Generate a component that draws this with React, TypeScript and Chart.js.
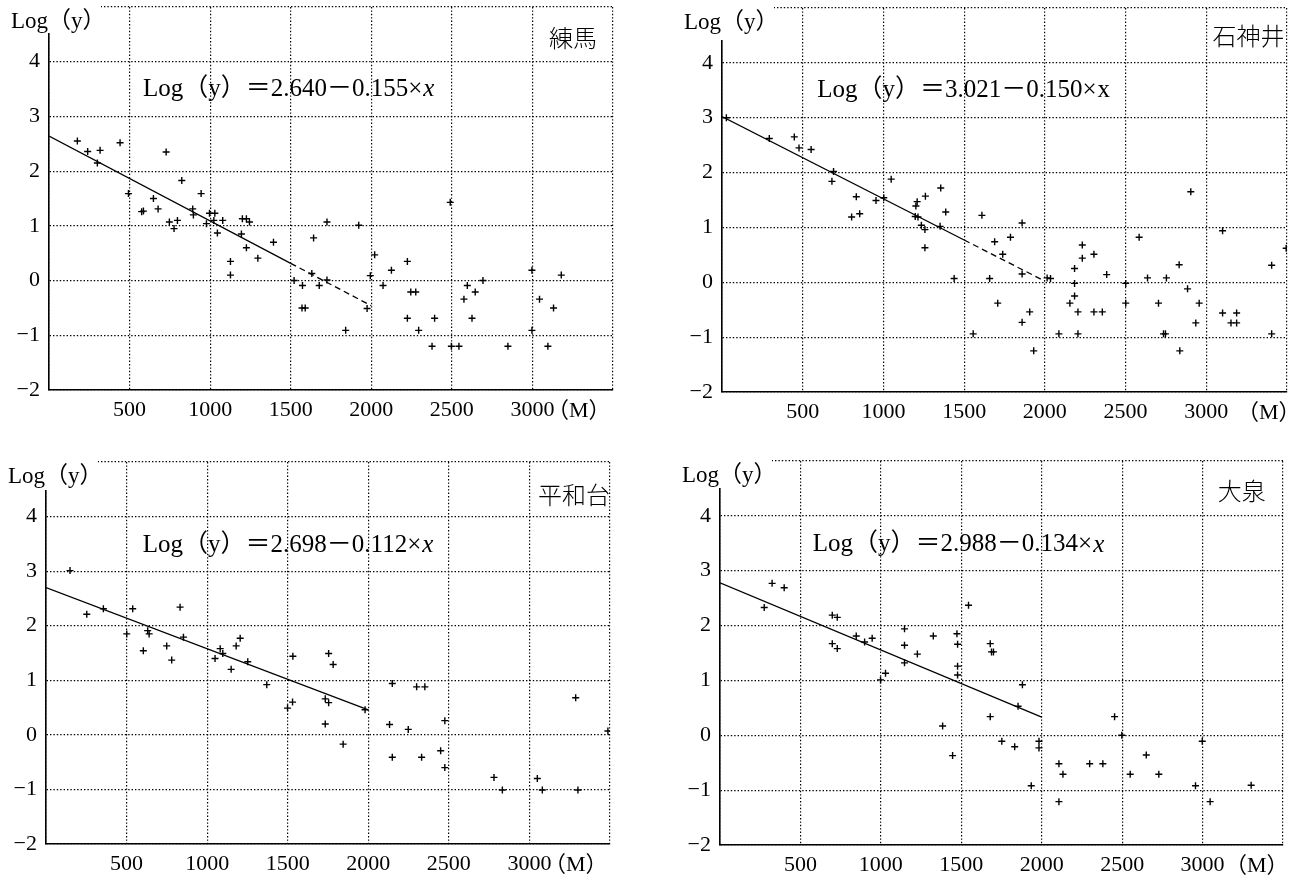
import React, { useEffect, useRef } from "react";
import { Chart, registerables } from "chart.js";

Chart.register(...registerables);

// ---------------- data ----------------
const stationNames = ["練馬", "石神井", "平和台", "大泉"];
const equationMain = [
  "Log（y）＝2.640－0.155×",
  "Log（y）＝3.021－0.150×",
  "Log（y）＝2.698－0.112×",
  "Log（y）＝2.988－0.134×",
];
const equationVar = ["x", "x", "x", "x"];
const equationVarItalic = [true, false, true, true];

const axisTitle = "Log（y）";
const unitLabel = "（M）";

const xTickValues = [500, 1000, 1500, 2000, 2500, 3000];
const xTickLabels = ["500", "1000", "1500", "2000", "2500", "3000"];
const yTickValues = [-2, -1, 0, 1, 2, 3, 4];
const yTickLabels = ["−2", "−1", "0", "1", "2", "3", "4"];

// 練馬
const nerimaX = [176, 240, 317, 300, 441, 727, 493, 824, 944, 575, 586, 648, 677, 747, 776, 797, 892, 896, 977, 996, 1029, 1023, 1078, 1045, 1200, 1225, 1244, 1194, 1225, 1296, 1393, 1126, 1126, 1521, 1573, 1570, 1590, 1642, 1631, 1677, 1725, 1725, 1922, 1841, 1974, 1994, 2021, 2073, 2125, 2224, 2245, 2276, 2224, 2294, 2377, 2393, 2490, 2497, 2544, 2575, 2596, 2645, 2625, 2693, 2848, 2997, 2997, 3044, 3131, 3096, 3179];
const nerimaY = [2.55, 2.36, 2.38, 2.15, 2.52, 2.35, 1.59, 1.83, 1.59, 1.26, 1.27, 1.5, 1.31, 1.07, 0.95, 1.1, 1.31, 1.2, 1.04, 1.23, 1.23, 1.1, 1.1, 0.87, 1.13, 1.13, 1.07, 0.85, 0.6, 0.41, 0.7, 0.35, 0.1, 0.0, -0.09, -0.5, -0.5, 0.78, 0.13, -0.09, 1.07, 0.01, 1.01, -0.91, -0.51, 0.09, 0.47, -0.09, 0.19, 0.35, -0.21, -0.21, -0.69, -0.91, -1.2, -0.69, 1.43, -1.2, -1.2, -0.34, -0.09, -0.21, -0.69, 0.0, -1.2, 0.19, -0.91, -0.34, -0.5, -1.2, 0.1];
const nerimaLineX = [0, 1500, 2000];
const nerimaLineY = [2.64, 0.315, -0.46];

// 石神井
const shakujiiX = [27, 293, 448, 477, 552, 691, 681, 832, 803, 853, 954, 1002, 1048, 1201, 1209, 1260, 1197, 1214, 1235, 1257, 1257, 1355, 1386, 1351, 1438, 1556, 1610, 1658, 1689, 1708, 1739, 1787, 1859, 1859, 1906, 1859, 1931, 2014, 2035, 2087, 2184, 2184, 2184, 2155, 2205, 2205, 2232, 2232, 2304, 2304, 2356, 2383, 2501, 2501, 2584, 2636, 2753, 2704, 2735, 2747, 2832, 2836, 2884, 2904, 2956, 2935, 3101, 3101, 3188, 3153, 3188, 3405, 3405, 3495];
const shakujiiY = [3.0, 2.62, 2.65, 2.45, 2.42, 2.02, 1.84, 1.56, 1.19, 1.25, 1.49, 1.54, 1.88, 1.39, 1.47, 1.57, 1.2, 1.19, 1.04, 0.96, 0.63, 1.72, 1.28, 1.02, 0.07, -0.94, 1.22, 0.07, 0.74, -0.38, 0.51, 0.82, 1.08, 0.15, -0.54, -0.73, -1.25, 0.08, 0.07, -0.94, 0.25, -0.02, -0.25, -0.38, -0.54, -0.94, 0.68, 0.44, 0.51, -0.54, -0.54, 0.14, -0.02, -0.38, 0.82, 0.08, 0.08, -0.38, -0.94, -0.94, 0.32, -1.25, -0.12, 1.65, -0.38, -0.74, 0.94, -0.56, -0.56, -0.74, -0.74, 0.31, -0.94, 0.62];
const shakujiiLineX = [0, 1500, 2000];
const shakujiiLineY = [3.021, 0.771, 0.021];

// 平和台
const heiwadaiX = [149, 253, 356, 538, 501, 604, 631, 640, 749, 780, 832, 853, 1049, 1081, 1097, 1149, 1180, 1205, 1252, 1370, 1532, 1499, 1530, 1733, 1754, 1733, 1754, 1782, 1844, 1980, 2149, 2132, 2149, 2248, 2300, 2351, 2331, 2449, 2475, 2475, 2780, 2832, 3049, 3080, 3287, 3301, 3487];
const heiwadaiY = [3.01, 2.21, 2.31, 2.31, 1.85, 1.54, 1.91, 1.85, 1.63, 1.37, 2.34, 1.79, 1.4, 1.58, 1.49, 1.2, 1.63, 1.77, 1.34, 0.92, 1.44, 0.49, 0.6, 0.66, 0.59, 0.2, 1.49, 1.29, -0.17, 0.46, 0.94, 0.19, -0.41, 0.1, 0.88, 0.88, -0.41, -0.29, 0.26, -0.6, -0.78, -1.01, -0.8, -1.01, 0.68, -1.01, 0.07];
const heiwadaiLineX = [0, 2000];
const heiwadaiLineY = [2.698, 0.458];

// 大泉
const oizumiX = [275, 324, 399, 698, 729, 698, 729, 847, 899, 946, 998, 1029, 1147, 1147, 1147, 1227, 1326, 1384, 1446, 1473, 1477, 1477, 1477, 1545, 1680, 1688, 1700, 1680, 1752, 1880, 1853, 1832, 1983, 1983, 1935, 2107, 2132, 2107, 2298, 2380, 2453, 2498, 2550, 2650, 2728, 2956, 2998, 3047, 3302];
const oizumiY = [2.33, 2.77, 2.69, 2.19, 2.15, 1.67, 1.58, 1.81, 1.7, 1.77, 1.01, 1.13, 1.94, 1.64, 1.32, 1.48, 1.81, 0.17, -0.37, 1.85, 1.66, 1.26, 1.1, 2.37, 1.67, 1.52, 1.52, 0.34, -0.11, 0.92, 0.53, -0.21, -0.11, -0.23, -0.92, -0.52, -0.71, -1.21, -0.52, -0.52, 0.34, 0.0, -0.71, -0.36, -0.71, -0.92, -0.11, -1.21, -0.91];
const oizumiLineX = [0, 2000];
const oizumiLineY = [2.78, 0.33];

const seriesX = [nerimaX, shakujiiX, heiwadaiX, oizumiX];
const seriesY = [nerimaY, shakujiiY, heiwadaiY, oizumiY];
const lineXs = [nerimaLineX, shakujiiLineX, heiwadaiLineX, oizumiLineX];
const lineYs = [nerimaLineY, shakujiiLineY, heiwadaiLineY, oizumiLineY];
// index in line arrays where the solid part ends (rest is dashed)
const solidEndIndex = [1, 1, 1, 1];

// ---------------- layout / style ----------------
const SERIF = "'Liberation Serif', 'Noto Sans CJK JP', serif";
const CJK = "'Noto Sans CJK JP', 'Noto Sans CJK SC', sans-serif";

const LAYOUT = [
  { left: 0, top: 0, w: 650, h: 440, a: { l: 49, t: 7, r: 613, b: 390 }, eq: [583, 3.5], name: [3400, 4.44], unitDx: -66, coverH: 26 },
  { left: 650, top: 0, w: 651, h: 440, a: { l: 72, t: 8, r: 637, b: 392 }, eq: [590, 3.5], name: [3484, 4.5], unitDx: -50, coverH: 32 },
  { left: 0, top: 440, w: 650, h: 441, a: { l: 46, t: 22, r: 610, b: 404 }, eq: [601, 3.47], name: [3500, 4.39], unitDx: -66, coverH: 28 },
  { left: 650, top: 440, w: 651, h: 441, a: { l: 70, t: 21, r: 633, b: 405 }, eq: [577, 3.47], name: [3392, 4.46], unitDx: -58, coverH: 27 },
];

function makeAnnotPlugin(i: number) {
  const L = LAYOUT[i];
  return {
    id: "annot" + i,
    afterDraw(chart: any) {
      const { ctx, chartArea: a, scales } = chart;
      const sx = scales.x;
      const sy = scales.y;
      ctx.save();
      // blank area behind the axis title
      ctx.fillStyle = "#fff";
      ctx.fillRect(a.left - 4, 0, 56, a.top + L.coverH);
      ctx.fillStyle = "#000";
      ctx.textBaseline = "middle";
      ctx.textAlign = "left";
      ctx.font = `23px ${SERIF}`;
      ctx.fillText(axisTitle, a.left - 38, a.top + 15);

      // equation
      ctx.font = `25px ${SERIF}`;
      const ex = sx.getPixelForValue(L.eq[0]);
      const ey = sy.getPixelForValue(L.eq[1]);
      ctx.fillText(equationMain[i], ex, ey);
      const w = ctx.measureText(equationMain[i]).width;
      ctx.font = `${equationVarItalic[i] ? "italic " : ""}25px ${SERIF}`;
      ctx.fillText(equationVar[i], ex + w + 1, ey);

      // station name
      ctx.font = `300 24px ${CJK}`;
      ctx.textAlign = "right";
      ctx.fillText(stationNames[i], sx.getPixelForValue(L.name[0]), sy.getPixelForValue(L.name[1]));

      // unit
      ctx.textAlign = "left";
      ctx.font = `22px ${SERIF}`;
      ctx.fillText(unitLabel, a.right + L.unitDx, a.bottom + 21);
      ctx.restore();
    },
  };
}

function buildConfig(i: number): any {
  const L = LAYOUT[i];
  const pts = seriesX[i].map((x, k) => ({ x, y: seriesY[i][k] }));
  const lx = lineXs[i];
  const ly = lineYs[i];
  const se = solidEndIndex[i];
  const solid = lx.slice(0, se + 1).map((x, k) => ({ x, y: ly[k] }));
  const dashed = lx.slice(se).map((x, k) => ({ x, y: ly[k + se] }));
  const datasets: any[] = [
    {
      data: pts,
      pointStyle: "cross",
      pointRadius: 3.5,
      pointHoverRadius: 3.5,
      borderColor: "#000",
      backgroundColor: "#000",
      borderWidth: 1.4,
      showLine: false,
    },
    {
      data: solid,
      showLine: true,
      borderColor: "#000",
      borderWidth: 1.3,
      pointRadius: 0,
      fill: false,
    },
  ];
  if (dashed.length > 1) {
    datasets.push({
      data: dashed,
      showLine: true,
      borderColor: "#000",
      borderWidth: 1.3,
      borderDash: [6, 4],
      pointRadius: 0,
      fill: false,
    });
  }
  const gridStyle = { color: "#000", lineWidth: 1.2, drawTicks: false };
  const borderStyle = { display: true, color: "#000", width: 1.6, dash: [1.4, 2] };
  return {
    type: "scatter",
    data: { datasets },
    plugins: [makeAnnotPlugin(i)],
    options: {
      animation: false,
      responsive: false,
      maintainAspectRatio: false,
      devicePixelRatio: 1,
      events: [],
      layout: { padding: { left: 0, top: L.a.t, right: L.w - L.a.r, bottom: 0 } },
      plugins: { legend: { display: false }, tooltip: { enabled: false }, title: { display: false } },
      scales: {
        x: {
          type: "linear",
          min: 0,
          max: 3500,
          ticks: {
            stepSize: 500,
            autoSkip: false,
            maxRotation: 0,
            padding: 7,
            color: "#000",
            font: { family: SERIF, size: 22 },
            callback: (v: number) => {
              const k = xTickValues.indexOf(v);
              return k >= 0 ? xTickLabels[k] : "";
            },
          },
          grid: gridStyle,
          border: borderStyle,
          afterFit: (s: any) => {
            s.height = L.h - L.a.b;
            s.paddingLeft = 0;
            s.paddingRight = 0;
            s.paddingTop = 0;
            s.paddingBottom = 0;
          },
        },
        y: {
          type: "linear",
          min: -2,
          max: 5,
          ticks: {
            stepSize: 1,
            autoSkip: false,
            padding: 9,
            color: "#000",
            font: { family: SERIF, size: 22 },
            callback: (v: number) => {
              const k = yTickValues.indexOf(v);
              return k >= 0 ? yTickLabels[k] : "";
            },
          },
          grid: gridStyle,
          border: borderStyle,
          afterFit: (s: any) => {
            s.width = L.a.l;
            s.paddingLeft = 0;
            s.paddingRight = 0;
            s.paddingTop = 0;
            s.paddingBottom = 0;
          },
        },
      },
    },
  };
}

export default function App() {
  const canvases = useRef<(HTMLCanvasElement | null)[]>([]);
  useEffect(() => {
    const charts = LAYOUT.map((_, i) => new Chart(canvases.current[i] as HTMLCanvasElement, buildConfig(i)));
    return () => charts.forEach((c) => c.destroy());
  }, []);
  return (
    <div style={{ position: "absolute", left: 0, top: 0, width: 1301, height: 881, background: "#fff", overflow: "hidden" }}>
      {LAYOUT.map((L, i) => (
        <canvas
          key={i}
          ref={(el) => {
            canvases.current[i] = el;
          }}
          width={L.w}
          height={L.h}
          style={{ position: "absolute", left: L.left, top: L.top, width: L.w, height: L.h }}
        />
      ))}
    </div>
  );
}
